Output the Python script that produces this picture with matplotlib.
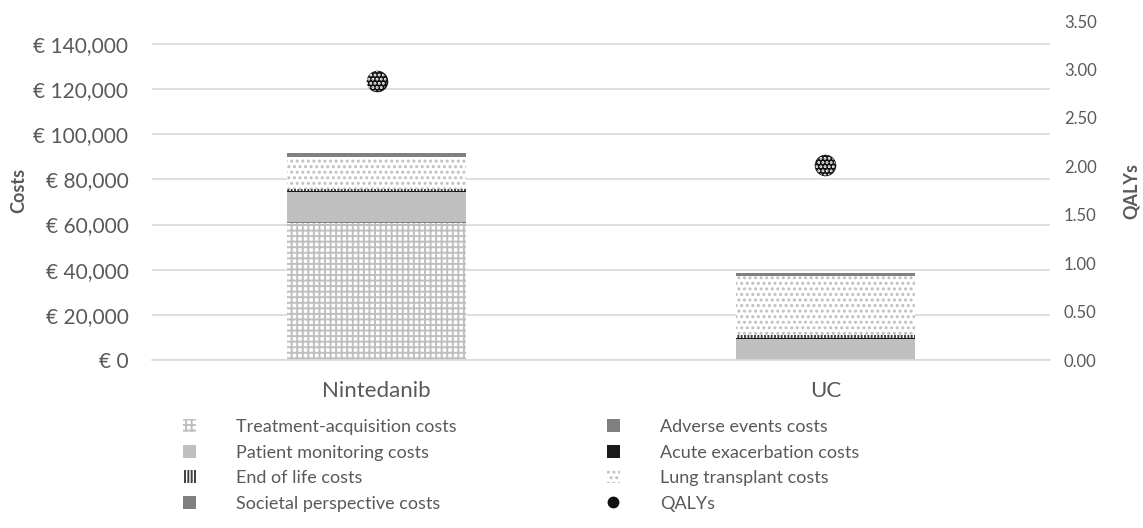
import numpy as np
import matplotlib
matplotlib.use("Agg")
from matplotlib import pyplot as plt
from matplotlib.patches import Patch
from matplotlib.lines import Line2D
from matplotlib.ticker import FuncFormatter

plt.rcParams['font.family'] = ['Lato', 'DejaVu Sans']
plt.rcParams['hatch.linewidth'] = 1.4

# cost components per arm (EUR), stacked bottom to top
arms = ['Nintedanib', 'UC']
treatment = [60800, 0]
adverse = [200, 200]
monitoring = [13200, 9000]
exacerbation = [500, 500]
end_of_life = [1000, 1300]
transplant = [14000, 26000]
societal = [1800, 1700]
qalys = [2.88, 2.01]

txt = '#595959'
grid = '#D9D9D9'

fig = plt.figure(figsize=(11.43, 5.28), dpi=100)
ax = fig.add_axes([0.133, 0.318, 0.7856, 0.642])
ax2 = ax.twinx()

x = np.arange(len(arms))
w = 0.4

# (values, facecolor, hatch colour, hatch, label)
layers = [
    (treatment, 'white', '#BFBFBF', '+++', 'Treatment-acquisition costs'),
    (adverse, '#808080', '#808080', None, 'Adverse events costs'),
    (monitoring, '#BFBFBF', '#BFBFBF', None, 'Patient monitoring costs'),
    (exacerbation, '#1A1A1A', '#1A1A1A', None, 'Acute exacerbation costs'),
    (end_of_life, 'white', '#404040', '|||||', 'End of life costs'),
    (transplant, 'white', '#BFBFBF', '...', 'Lung transplant costs'),
    (societal, '#808080', '#808080', None, 'Societal perspective costs'),
]

bottom = np.zeros(len(arms))
handles = {}
for vals, fc, hc, hatch, label in layers:
    ax.bar(x, vals, w, bottom=bottom, color=fc, edgecolor=hc, hatch=hatch,
           linewidth=0, zorder=2)
    bottom += np.array(vals)
    handles[label] = Patch(facecolor=fc, edgecolor=hc, hatch=hatch, linewidth=0)

# QALY markers: black dot with white speckle
ax2.scatter(x, qalys, s=210, color='#111111', zorder=3)
ax2.scatter(x, qalys, s=210, facecolor='none', edgecolor='white', hatch='....',
            linewidth=0, zorder=4)

ax.set_xlim(-0.5, 1.5)
ax.set_ylim(0, 150000)
ax.set_yticks(np.arange(0, 140001, 20000))
ax.yaxis.set_major_formatter(FuncFormatter(lambda v, p: '€ {:,.0f}'.format(v)))
ax.grid(axis='y', color=grid, linewidth=1.2, zorder=0)
ax.set_axisbelow(True)
ax.set_xticks(x)
ax.set_xticklabels(arms)

ax2.set_ylim(0, 3.5)
ax2.set_yticks(np.arange(0, 3.51, 0.5))
ax2.yaxis.set_major_formatter(FuncFormatter(lambda v, p: '{:.2f}'.format(v)))

for a in (ax, ax2):
    for s in a.spines.values():
        s.set_visible(False)
ax.spines['bottom'].set_visible(True)
ax.spines['bottom'].set_color(grid)
ax.spines['bottom'].set_linewidth(1.2)

ax.tick_params(axis='y', length=0, pad=17, labelsize=15, labelcolor=txt)
ax.tick_params(axis='x', length=0, pad=15, labelsize=16, labelcolor=txt)
ax2.tick_params(axis='y', length=0, pad=10, labelsize=12, labelcolor=txt)

fig.text(0.016, 0.64, 'Costs', rotation=90, ha='center', va='center',
         fontsize=13, fontweight='bold', color=txt)
fig.text(0.990, 0.638, 'QALYs', rotation=90, ha='center', va='center',
         fontsize=13, fontweight='bold', color=txt)

q_handle = Line2D([], [], marker='o', linestyle='none', markersize=7.5,
                  markerfacecolor='#111111', markeredgecolor='#111111')
order = ['Treatment-acquisition costs', 'Patient monitoring costs',
         'End of life costs', 'Societal perspective costs',
         'Adverse events costs', 'Acute exacerbation costs',
         'Lung transplant costs']
leg_handles = [handles[k] for k in order] + [q_handle]
leg_labels = order + ['QALYs']
leg = fig.legend(leg_handles, leg_labels, ncol=2, loc='upper left',
                 bbox_to_anchor=(0.160, 1 - 419 / 528), frameon=False,
                 fontsize=13, handlelength=0.75, handleheight=0.75,
                 handletextpad=2.2, columnspacing=8.3, labelspacing=0.53,
                 borderpad=0, borderaxespad=0)
for t in leg.get_texts():
    t.set_color(txt)

fig.savefig('out.png', dpi=100)
